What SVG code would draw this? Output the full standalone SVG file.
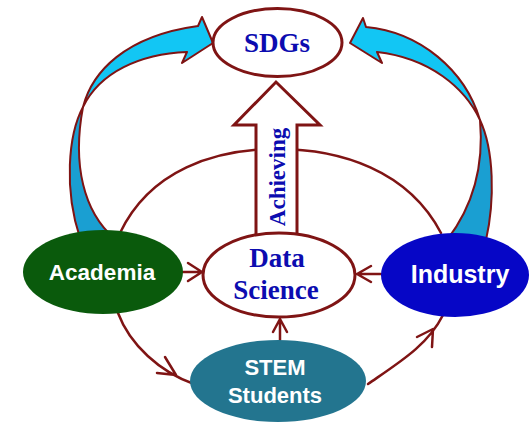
<svg xmlns="http://www.w3.org/2000/svg" width="531" height="424" viewBox="0 0 531 424">
<style>
.ln{fill:none;stroke:#7f1414;stroke-width:2.5;stroke-linecap:round;stroke-linejoin:round}
.ser{font-family:"Liberation Serif","Times New Roman",serif;font-weight:bold;fill:#0c0cb0;text-anchor:middle}
.san{font-family:"Liberation Sans",Arial,sans-serif;font-weight:bold;fill:#ffffff;text-anchor:middle}
.front{fill:#12c6f4;stroke:#7f1414;stroke-width:2;stroke-linejoin:round}
.back{fill:#1a9fd2;stroke:#7f1414;stroke-width:2;stroke-linejoin:round}
</style>
<rect width="531" height="424" fill="#ffffff"/>
<g id="connectors">
  <!-- inner arc through the top, behind the block arrow -->
  <path class="ln" d="M120,233 C150,170 215,149 277,149 C340,149 408,170 441,233"/>
  <!-- curved ribbon arrows to SDGs -->
  <g id="arrow-academia-sdgs">
    <path class="back" d="M83,107 C68,135 64,190 80,238 L114,238 C84,212 72,165 83,107 Z"/>
    <path class="front" d="M83,107 C92,72 125,36 198,26 L202,17 L213,43 L182,63 L187,52 C140,54 100,72 83,107 Z"/>
  </g>
  <g id="arrow-industry-sdgs">
    <path class="back" d="M480,120 C494,150 495,200 486,240 L447,240 C474,205 484,165 480,120 Z"/>
    <path class="front" d="M480,120 C465,70 420,32 366,27 L363,18 L350,43 L382,63 L377,52 C430,58 465,88 480,120 Z"/>
  </g>
  <!-- block arrow Data Science -> SDGs -->
  <g id="arrow-achieving">
    <path d="M256,234 L256,125 L234,125 L276,82 L320,125 L297,125 L297,234" fill="#ffffff" stroke="#7f1414" stroke-width="3" stroke-linejoin="miter"/>
    <text class="ser" font-size="23" transform="translate(285,177) rotate(-90)">Achieving</text>
  </g>
  <!-- Academia -> Data Science -->
  <path class="ln" d="M183,272 L201,272 M188,263 L202,272 L188,281"/>
  <!-- Industry -> Data Science -->
  <path class="ln" d="M381,274 L357,274 M371,266 L357,274 L371,282"/>
  <!-- STEM -> Data Science -->
  <path class="ln" d="M280,340 L280,319 M273,332 L280,319 L287,332"/>
  <!-- Academia -> STEM -->
  <path class="ln" d="M118,313 C130,345 160,372 194,384 M165,357 L176,375 L157,373"/>
  <!-- STEM -> Industry -->
  <path class="ln" d="M368,384 C400,362 428,345 443,315 M417,337 L433,329 L432,347"/>
</g>
<g id="sdgs">
  <ellipse cx="277.5" cy="42.5" rx="64.5" ry="34" fill="#ffffff" stroke="#7f1414" stroke-width="3"/>
  <text class="ser" x="277" y="52" font-size="27">SDGs</text>
</g>
<g id="data-science">
  <ellipse cx="279" cy="275" rx="76" ry="42" fill="#ffffff" stroke="#7f1414" stroke-width="3"/>
  <text class="ser" x="277" y="267" font-size="27">Data</text>
  <text class="ser" x="276" y="299" font-size="27">Science</text>
</g>
<g id="academia">
  <ellipse cx="103" cy="272" rx="80" ry="42" fill="#0a5a0c"/>
  <text class="san" x="102" y="280" font-size="22.5">Academia</text>
</g>
<g id="industry">
  <ellipse cx="455" cy="275" rx="74" ry="42" fill="#0606c6"/>
  <text class="san" x="460" y="283" font-size="25">Industry</text>
</g>
<g id="stem-students">
  <ellipse cx="278" cy="381" rx="88" ry="41" fill="#23758f"/>
  <text class="san" x="275" y="375" font-size="22">STEM</text>
  <text class="san" x="275" y="403" font-size="22">Students</text>
</g>
</svg>
